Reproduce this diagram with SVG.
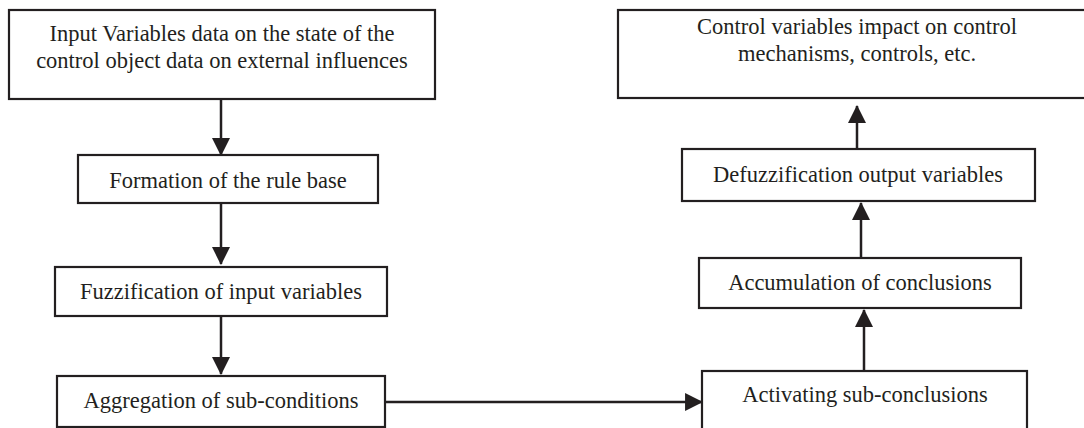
<svg xmlns="http://www.w3.org/2000/svg" width="1084" height="428" viewBox="0 0 1084 428">
<style>
.box{fill:#fff;stroke:#231f20;stroke-width:2.2}
.t{font-family:"Liberation Serif","Times New Roman",serif;font-size:22.5px;fill:#231f20;text-anchor:middle}
.c{stroke:#231f20;stroke-width:2.5;fill:none;marker-end:url(#ah)}
</style>
<defs>
<marker id="ah" markerUnits="userSpaceOnUse" markerWidth="18" markerHeight="18" viewBox="0 0 17 17" refX="16" refY="8.5" orient="auto">
<path d="M0,0 L17,8.5 L0,17 z" fill="#231f20"/>
</marker>
</defs>
<rect width="1084" height="428" fill="#fff"/>
<g id="connectors">
<line class="c" x1="221" y1="99" x2="221" y2="155"/>
<line class="c" x1="221" y1="203" x2="221" y2="264"/>
<line class="c" x1="221" y1="316" x2="221" y2="374"/>
<line class="c" x1="385" y1="402" x2="702" y2="402"/>
<line class="c" x1="864" y1="371" x2="864" y2="310"/>
<line class="c" x1="861" y1="258" x2="861" y2="203"/>
<line class="c" x1="857" y1="149" x2="857" y2="106"/>
</g>
<g id="n1">
<rect class="box" x="9" y="10" width="426" height="89"/>
<text class="t" x="222" y="41">Input Variables data on the state of the</text>
<text class="t" x="222" y="68">control object data on external influences</text>
</g>
<g id="n2">
<rect class="box" x="78" y="155" width="300" height="48"/>
<text class="t" x="228" y="188">Formation of the rule base</text>
</g>
<g id="n3">
<rect class="box" x="55" y="267" width="332" height="49"/>
<text class="t" x="221" y="299">Fuzzification of input variables</text>
</g>
<g id="n4">
<rect class="box" x="57" y="376" width="328" height="51"/>
<text class="t" x="221" y="408">Aggregation of sub-conditions</text>
</g>
<g id="n5">
<rect class="box" x="702" y="371" width="325" height="62"/>
<text class="t" x="865" y="402">Activating sub-conclusions</text>
</g>
<g id="n6">
<rect class="box" x="699" y="258" width="322" height="50"/>
<text class="t" x="860" y="290">Accumulation of conclusions</text>
</g>
<g id="n7">
<rect class="box" x="682" y="149" width="353" height="52"/>
<text class="t" x="858" y="182">Defuzzification output variables</text>
</g>
<g id="n8">
<rect class="box" x="618" y="10" width="470" height="88"/>
<text class="t" x="857" y="34">Control variables impact on control</text>
<text class="t" x="857" y="61">mechanisms, controls, etc.</text>
</g>
</svg>
